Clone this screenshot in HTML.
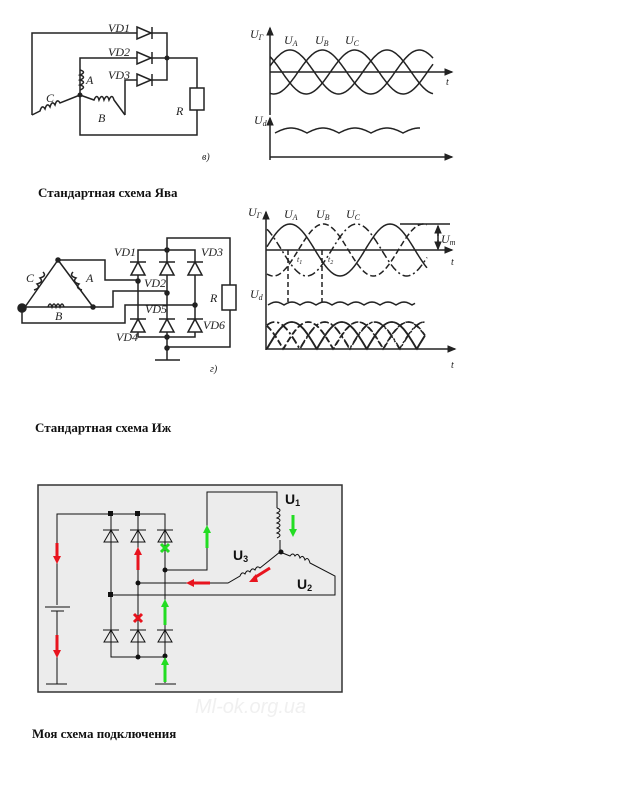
<!DOCTYPE html>
<html><head><meta charset="utf-8"><style>
html,body{margin:0;padding:0;background:#fff;}
svg{display:block}
.it{font-family:"Liberation Serif",serif;font-style:italic;font-size:12px;fill:#222}
.cap{font-family:"Liberation Serif","Noto Serif CJK SC",serif;font-weight:bold;font-size:13px;fill:#111}
.u{font-family:"Liberation Sans",sans-serif;font-weight:bold;font-size:14px;fill:#111}
</style></head><body>
<svg id="s" width="631" height="798" viewBox="0 0 631 798" xmlns="http://www.w3.org/2000/svg">
<defs>
<marker id="ar" markerWidth="6" markerHeight="6" refX="5" refY="3" orient="auto"><path d="M0,0.5 L6,3 L0,5.5 z" fill="#222"/></marker>
</defs>
<g stroke="#222" stroke-width="1.5" fill="none">
<!-- Diagram 1 -->
<path d="M32,115 V33 H167 V80 H137"/>
<path d="M80,95 V58 H167 M167,58 H197 V88 M197,110 V135 H80 V95"/>
<path d="M125,115 V80 H137"/>
<rect x="190" y="88" width="14" height="22"/>
<path d="M80,70 q7,2 0,5 q7,2 0,5 q7,2 0,5 q7,2 0,5"/>
<path d="M32,115 L40,111 q2,-7 5,-2 q2,-7 5,-2 q2,-7 5,-2 q2,-7 5,-2 L80,95"/>
<path d="M80,95 L94,100 q3,-7 5,0 q3,-7 5,0 q3,-7 5,0 q3,-7 5,0 L125,115"/>
</g>
<g fill="#fff" stroke="#222" stroke-width="1.5">
<path d="M137,27 L151,33 L137,39 z"/><path d="M152,27 V39"/>
<path d="M137,52 L151,58 L137,64 z"/><path d="M152,52 V64"/>
<path d="M137,74 L151,80 L137,86 z"/><path d="M152,74 V86"/>
</g>
<g fill="#222"><circle cx="80" cy="95" r="2.5"/><circle cx="167" cy="58" r="2.5"/></g>
<text class="it" x="108" y="32">VD1</text><text class="it" x="108" y="56">VD2</text><text class="it" x="108" y="79">VD3</text>
<text class="it" x="86" y="84">A</text><text class="it" x="46" y="102">C</text><text class="it" x="98" y="122">B</text><text class="it" x="176" y="115">R</text><text class="it" x="202" y="160" style="font-size:10px">в)</text>
<!-- Graph 1 -->
<g stroke="#222" stroke-width="1.5" fill="none">
<path d="M270,115 V28" marker-end="url(#ar)"/><path d="M270,72 H452" marker-end="url(#ar)"/>
<path d="M270,160 V118" marker-end="url(#ar)"/><path d="M270,157 H452" marker-end="url(#ar)"/>
<g id="g1"></g>
</g>
<text class="it" x="250" y="38">U<tspan font-size="8" dy="2">Г</tspan></text>
<text class="it" x="284" y="44">U<tspan font-size="8" dy="2">A</tspan></text><text class="it" x="315" y="44">U<tspan font-size="8" dy="2">B</tspan></text><text class="it" x="345" y="44">U<tspan font-size="8" dy="2">C</tspan></text>
<text class="it" x="446" y="85" style="font-size:10px">t</text>
<text class="it" x="254" y="124">U<tspan font-size="8" dy="2">d</tspan></text>
<text class="cap" x="38" y="197">Стандартная схема Ява</text>
<!-- Diagram 2 -->
<g stroke="#222" stroke-width="1.5" fill="none">
<path d="M58,260 L25,307 M58,260 L93,307 M25,307 H93"/>
<path d="M58,260 H105 V280 H138"/>
<path d="M93,307 H113 V291 H167"/>
<path d="M22,310 V323 H125 V305 H195"/>
<path d="M138,250 H195 V337 H138 z M167,250 V348"/>
<path d="M167,250 V238 H230 V285 M230,310 V347 H167 M167,348 V360 M155,360 H180"/>
<rect x="222" y="285" width="14" height="25" fill="#fff"/>
<path d="M34,290 q7,-2 3,-6 q7,-2 3,-6 q7,-2 3,-6 M82,290 q-7,-2 -3,-6 q-7,-2 -3,-6 q-7,-2 -3,-6 M48,307 q2,-6 4,0 q2,-6 4,0 q2,-6 4,0 q2,-6 4,0"/>
</g>
<g fill="#222" stroke="#222" stroke-width="1.5">
<circle cx="22" cy="308" r="4"/><circle cx="58" cy="260" r="2"/><circle cx="93" cy="307" r="2"/>
<circle cx="138" cy="281" r="2"/><circle cx="167" cy="293" r="2"/><circle cx="195" cy="305" r="2"/>
<circle cx="167" cy="250" r="2"/><circle cx="167" cy="337" r="2"/><circle cx="167" cy="348" r="2"/>
<path d="M130,262 H146 M159,262 H175 M187,262 H203"/>
<path d="M130,319 H146 M159,319 H175 M187,319 H203"/>
</g>
<g fill="#fff" stroke="#222" stroke-width="1.5">
<path d="M131,275 L138,262 L145,275 z M160,275 L167,262 L174,275 z M188,275 L195,262 L202,275 z"/>
<path d="M131,332 L138,319 L145,332 z M160,332 L167,319 L174,332 z M188,332 L195,319 L202,332 z"/>
</g>
<text class="it" x="114" y="256">VD1</text><text class="it" x="201" y="256">VD3</text><text class="it" x="144" y="287">VD2</text>
<text class="it" x="145" y="313">VD5</text><text class="it" x="203" y="329">VD6</text><text class="it" x="116" y="341">VD4</text>
<text class="it" x="26" y="282">C</text><text class="it" x="86" y="282">A</text><text class="it" x="55" y="320">B</text><text class="it" x="210" y="302">R</text>
<text class="it" x="210" y="372" style="font-size:10px">г)</text>
<!-- Graph 2 -->
<g stroke="#222" stroke-width="1.5" fill="none">
<path d="M266,350 V212" marker-end="url(#ar)"/><path d="M266,250 H452" marker-end="url(#ar)"/>
<path d="M266,349 H455" marker-end="url(#ar)"/>
<path d="M400,224 H450 M438,228 V247"/><path d="M438,236 V226" marker-end="url(#ar)"/><path d="M438,240 V249" marker-end="url(#ar)"/>
<path d="M288,250 V302 M322,250 V302" stroke-dasharray="5,3"/>
<g id="g2"></g>
</g>
<text class="it" x="248" y="216">U<tspan font-size="8" dy="2">Г</tspan></text>
<text class="it" x="284" y="218">U<tspan font-size="8" dy="2">A</tspan></text><text class="it" x="316" y="218">U<tspan font-size="8" dy="2">B</tspan></text><text class="it" x="346" y="218">U<tspan font-size="8" dy="2">C</tspan></text>
<text class="it" x="441" y="243">U<tspan font-size="8" dy="2">m</tspan></text>
<text class="it" x="451" y="265" style="font-size:10px">t</text><text class="it" x="451" y="368" style="font-size:10px">t</text>
<text class="it" x="250" y="298">U<tspan font-size="8" dy="2">d</tspan></text>
<text class="it" x="297" y="262" style="font-size:8px">t<tspan dy="2" font-size="6">1</tspan></text><text class="it" x="328" y="262" style="font-size:8px">t<tspan dy="2" font-size="6">2</tspan></text>
<text class="cap" x="35" y="432">Стандартная схема Иж</text>
<!-- Diagram 3 -->
<rect x="38" y="485" width="304" height="207" fill="#ececec" stroke="#333" stroke-width="1.5"/>
<g stroke="#111" stroke-width="1" fill="none">
<path d="M57,605 V514 H165 V683 M111,514 V657 H165 M138,514 V657"/>
<path d="M57,611 V684 M46,684 H67 M45,607 H70 M51,611 H64 M155,684 H176"/>
<path d="M165,570 H207 V492 H277 V508 M280,540 V552"/>
<path d="M277,508 q6,2 0,5 q6,2 0,5 q6,2 0,5 q6,2 0,5 q6,2 0,5 q6,2 0,5"/>
<path d="M138,583 H228 L240,576 q2,-5 5,-2 q2,-5 5,-2 q2,-5 5,-2 q2,-5 5,-2 L280,552 L290,556 q3,-4 5,0 q3,-4 5,2 q3,-4 5,2 q3,-4 5,3 L335,576 V595 H111"/>
<path d="M104,542 L111,530 L118,542 z M131,542 L138,530 L145,542 z M158,542 L165,530 L172,542 z M103,530 H119 M130,530 H146 M157,530 H173"/>
<path d="M104,642 L111,630 L118,642 z M131,642 L138,630 L145,642 z M158,642 L165,630 L172,642 z M103,630 H119 M130,630 H146 M157,630 H173"/>
</g>
<g fill="#111">
<rect x="108" y="511" width="5" height="5"/><rect x="135" y="511" width="5" height="5"/><rect x="108" y="592" width="5" height="5"/>
<circle cx="165" cy="570" r="2.5"/><circle cx="138" cy="583" r="2.5"/><circle cx="138" cy="657" r="2.5"/><circle cx="165" cy="656" r="2.5"/><circle cx="281" cy="552" r="2.5"/>
</g>
<g stroke-width="3" fill="none" stroke="#e8141e">
<path d="M57,543 V557"/><path d="M57,635 V651"/><path d="M138,570 V554"/><path d="M210,583 H193"/><path d="M270,568 L254,578"/>
<path d="M134,614 L142,622 M142,614 L134,622"/>
</g>
<g fill="#e8141e"><path d="M53,556 H61 L57,564 z"/><path d="M53,650 H61 L57,658 z"/><path d="M134,555 H142 L138,547 z"/><path d="M194,579 V587 L186,583 z"/><path d="M256,574 L258,582 L249,582 z"/></g>
<g stroke-width="3" fill="none" stroke="#22dd22">
<path d="M207,548 V532"/><path d="M293,515 V530"/><path d="M165,625 V606"/><path d="M165,682 V664"/>
<path d="M161,544 L169,552 M169,544 L161,552"/>
</g>
<g fill="#22dd22"><path d="M203,533 H211 L207,525 z"/><path d="M289,529 H297 L293,537 z"/><path d="M161,607 H169 L165,599 z"/><path d="M161,665 H169 L165,657 z"/></g>
<text class="u" x="285" y="504">U<tspan font-size="9" dy="2">1</tspan></text>
<text class="u" x="233" y="560">U<tspan font-size="9" dy="2">3</tspan></text>
<text class="u" x="297" y="589">U<tspan font-size="9" dy="2">2</tspan></text>
<text x="195" y="713" style="font-family:'Liberation Sans',sans-serif;font-size:20px;font-style:italic;fill:#f0f0f0">Ml-ok.org.ua</text>
<text class="cap" x="32" y="738">Моя схема подключения</text>
</svg>
<script>
function wave(x0,x1,yc,A,P,ph,dash){var d="";for(var x=x0;x<=x1;x+=1){var y=yc-A*Math.sin(2*Math.PI*(x-ph)/P);d+=(x==x0?"M":"L")+x+","+y.toFixed(1);}
var p=document.createElementNS("http://www.w3.org/2000/svg","path");p.setAttribute("d",d);if(dash)p.setAttribute("stroke-dasharray",dash);return p;}
var g1=document.getElementById("g1");
[0,1,2].forEach(function(k){g1.appendChild(wave(270,433,72,22,97,290-97/4+k*97/3));});
var d="";for(var x=275;x<=420;x++){var ph=((x-275)%32)/32;var y=133-5*Math.sin(Math.PI*ph);d+=(x==275?"M":"L")+x+","+y.toFixed(1);}
var p=document.createElementNS("http://www.w3.org/2000/svg","path");p.setAttribute("d",d);g1.appendChild(p);
var g2=document.getElementById("g2");
var ds=[null,"6,3","8,3,2,3"];
[0,1,2].forEach(function(k){g2.appendChild(wave(267,427,250,26,100,290-25+k*100/3,ds[k]));});
d="";for(var x=268;x<=415;x++){var ph=((x-268)%16)/16;var y=305-3*Math.sin(Math.PI*ph);d+=(x==268?"M":"L")+x+","+y.toFixed(1);}
p=document.createElementNS("http://www.w3.org/2000/svg","path");p.setAttribute("d",d);g2.appendChild(p);
for(var k=0;k<6;k++){d="";for(var x=267;x<=425;x++){var v=Math.sin(2*Math.PI*(x-267-k*16.5)/100);var y=349-27*Math.abs(v);d+=(x==267?"M":"L")+x+","+y.toFixed(1);}
p=document.createElementNS("http://www.w3.org/2000/svg","path");p.setAttribute("d",d);if(k%3)p.setAttribute("stroke-dasharray",ds[k%3]);g2.appendChild(p);}
</script>
</body></html>
